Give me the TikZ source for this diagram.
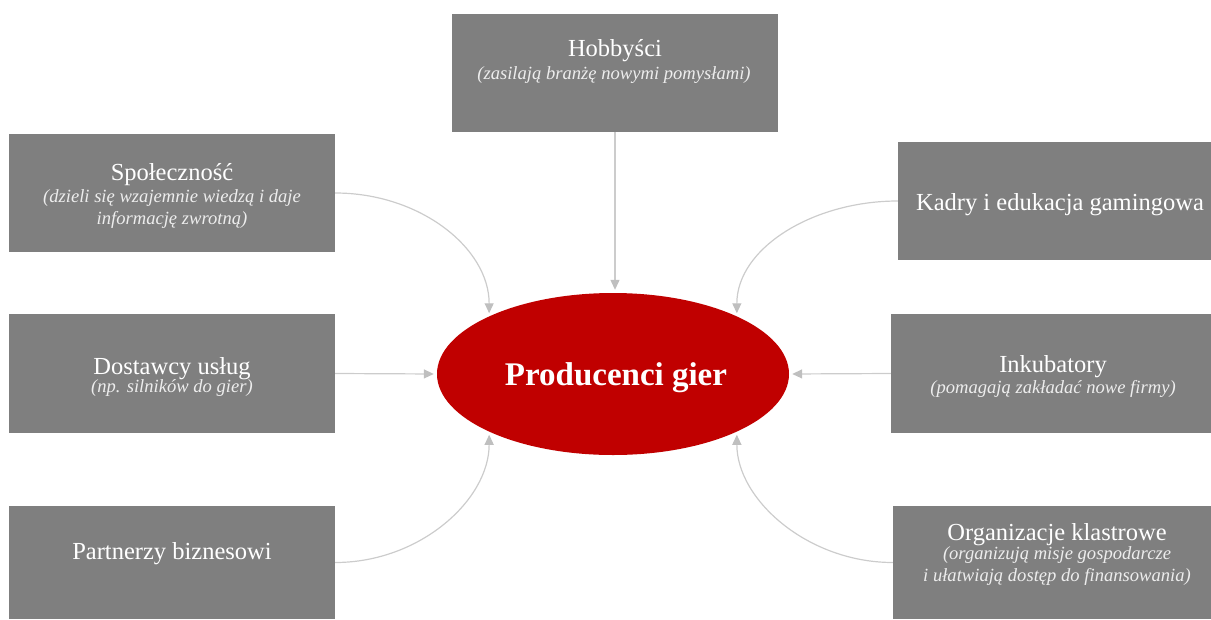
\documentclass[tikz,border=0pt]{standalone}
\usepackage{fontspec}
\setmainfont{Liberation Serif}
\usetikzlibrary{arrows.meta,shapes.geometric}
\definecolor{boxgray}{HTML}{7F7F7F}
\definecolor{prodred}{HTML}{C00000}
\definecolor{conngray}{HTML}{CCCCCC}
\definecolor{tipgray}{HTML}{BFBFBF}
\definecolor{subwhite}{HTML}{EDEDED}
\tikzset{
  box/.style={rectangle, fill=boxgray, draw=none, inner sep=0pt},
  ttl/.style={anchor=base, text=white, font=\fontsize{24.5}{28}\selectfont, inner sep=0pt},
  sub/.style={anchor=base, text=subwhite, font=\fontsize{18.6}{22}\itshape\selectfont, inner sep=0pt},
  conn/.style={draw=conngray, line width=1.2pt, shorten >=3pt,
    -{Triangle[length=10pt,width=9pt,color=tipgray]}},
}
\begin{document}
\begin{tikzpicture}[x=1pt,y=-1pt]
\useasboundingbox (0,0) rectangle (1211,619);
% boxes
\node[box, minimum width=326pt, minimum height=118pt] (hob) at (615,73) {};
\node[box, minimum width=326pt, minimum height=118pt] (soc) at (172,193) {};
\node[box, minimum width=313pt, minimum height=118pt] (kad) at (1054.5,201) {};
\node[box, minimum width=326pt, minimum height=119pt] (dos) at (172,373.5) {};
\node[box, minimum width=320pt, minimum height=119pt] (ink) at (1051,373.5) {};
\node[box, minimum width=326pt, minimum height=113pt] (par) at (172,562.5) {};
\node[box, minimum width=318pt, minimum height=113pt] (org) at (1052,562.5) {};
% ellipse
\node[ellipse, fill=prodred, draw=none, minimum width=352pt, minimum height=162pt, inner sep=0pt] (prod) at (613,374) {};
\node[anchor=base, text=white, font=\fontsize{33}{38}\bfseries\selectfont, inner sep=0pt] (prodt) at (616,385) {Producenci gier};
% texts
\node[ttl] (hobt) at (615,56) {Hobbyści};
\node[sub] (hobs) at (614,79) {(zasilają branżę nowymi pomysłami)};
\node[ttl] (soct) at (172,180) {Społeczność};
\node[sub] (socs1) at (172,202) {(dzieli się wzajemnie wiedzą i daje};
\node[sub] (socs2) at (172,224) {informację zwrotną)};
\node[ttl] (kadt) at (1060,210) {Kadry i edukacja gamingowa};
\node[ttl] (dost) at (172,374) {Dostawcy usług};
\node[sub] (doss) at (172,392) {(np. silników do gier)};
\node[ttl] (inkt) at (1053,372) {Inkubatory};
\node[sub] (inks) at (1053,393) {(pomagają zakładać nowe firmy)};
\node[ttl] (part) at (172,559) {Partnerzy biznesowi};
\node[ttl] (orgt) at (1057,540) {Organizacje klastrowe};
\node[sub] (orgs1) at (1057,559) {(organizują misje gospodarcze};
\node[sub] (orgs2) at (1057,581) {i ułatwiają dostęp do finansowania)};
% connectors
\draw[conn] (hob.south) -- (hob.south |- prod.north);
\draw[conn] (dos.east) -- (prod.west);
\draw[conn] (ink.west) -- (prod.east);
\draw[conn] (soc.east) .. controls +(85,0) and +(0,-68) .. (prod.155);
\draw[conn] (kad.west) .. controls +(-85,0) and +(0,-68) .. (prod.25);
\draw[conn] (par.east) .. controls +(85,0) and +(0,68) .. (prod.205);
\draw[conn] (org.west) .. controls +(-85,0) and +(0,68) .. (prod.-25);
\end{tikzpicture}
\end{document}
